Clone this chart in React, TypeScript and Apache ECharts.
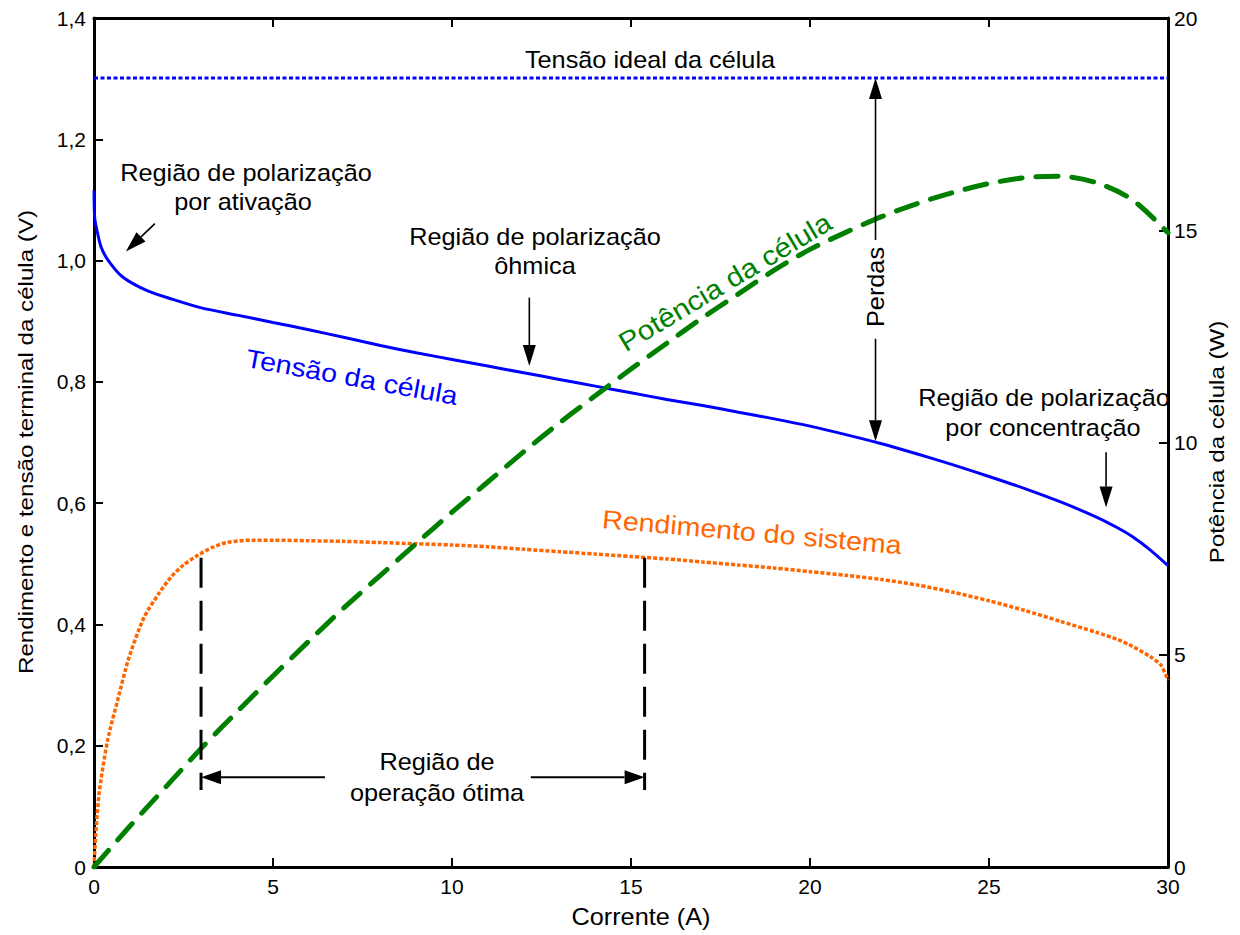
import React, { useEffect, useRef } from "react";
import * as echarts from "echarts";

const FONT = '"Liberation Sans", Arial, Helvetica, sans-serif';

// Corrente (A) / Tensão da célula (V)
const CURRENT_V = [0, 0.02, 0.1, 0.2, 0.4, 0.8, 1.5, 2.2, 3, 4, 5, 6, 7, 8, 9, 10, 11, 12, 13, 14, 15, 16, 17, 18, 19, 20, 21, 22, 23, 24, 25, 26, 27, 28, 28.6, 29, 29.5, 30];
const VOLTAGE = [1.115, 1.07, 1.045, 1.022, 1.0, 0.973, 0.95, 0.936, 0.922, 0.91, 0.898, 0.886, 0.873, 0.86, 0.848, 0.837, 0.826, 0.815, 0.804, 0.793, 0.782, 0.771, 0.761, 0.75, 0.739, 0.727, 0.713, 0.698, 0.681, 0.663, 0.644, 0.624, 0.602, 0.577, 0.559, 0.545, 0.523, 0.497];

// Rendimento do sistema
const CURRENT_E = [0, 0.05, 0.15, 0.38, 0.66, 0.98, 1.4, 1.8, 2.15, 2.5, 2.9, 3.3, 3.7, 4.4, 5, 6, 7, 8, 9, 10, 11, 12, 13, 14, 15, 16, 17, 18, 19, 20, 21, 22, 23, 24, 25, 26, 27, 28, 28.6, 29, 29.5, 29.8, 30];
const EFFICIENCY = [0, 0.055, 0.125, 0.209, 0.275, 0.346, 0.412, 0.45, 0.478, 0.498, 0.514, 0.527, 0.535, 0.539, 0.539, 0.538, 0.537, 0.535, 0.533, 0.531, 0.528, 0.524, 0.52, 0.516, 0.512, 0.508, 0.503, 0.498, 0.493, 0.487, 0.481, 0.474, 0.465, 0.453, 0.439, 0.423, 0.405, 0.387, 0.375, 0.364, 0.347, 0.333, 0.308];

// Potência da célula (W)
const CURRENT_P = [0, 1, 2, 3, 4, 5, 6, 7, 8, 9, 10, 11, 12, 13, 14, 15, 16, 17, 18, 19, 20, 21, 22, 23, 24, 25, 26, 27, 28, 29, 30];
const POWER = [0, 0.96, 1.88, 2.8, 3.66, 4.5, 5.32, 6.12, 6.87, 7.62, 8.36, 9.07, 9.78, 10.46, 11.1, 11.73, 12.34, 12.94, 13.5, 14.06, 14.55, 14.95, 15.32, 15.63, 15.89, 16.1, 16.24, 16.27, 16.12, 15.72, 14.94];

const IDEAL_CURRENT = [0, 30];
const IDEAL_VOLTAGE = [1.301, 1.301];

// Annotation arrows in data coordinates (x: A, y: V) [from, to]
const ARROWS: [number, number][][] = [
  [[1.7, 1.061], [0.89, 1.015]],
  [[12.16, 0.939], [12.16, 0.826]],
  [[21.83, 1.034], [21.83, 1.301]],
  [[21.83, 0.871], [21.83, 0.702]],
  [[28.27, 0.684], [28.27, 0.593]],
  [[6.45, 0.148], [2.99, 0.148]],
  [[12.2, 0.148], [15.38, 0.148]],
];
const OPTIMAL_BOUNDS = [2.99, 15.38];
const OPTIMAL_Y = [0.51, 0.127];

const zip = (xs: number[], ys: number[]) => xs.map((x, i) => [x, ys[i]]);

function txt(text: string, x: number, y: number, o: any = {}) {
  return {
    type: "text",
    x,
    y,
    rotation: o.rot || 0,
    scaleX: o.sx ?? 1.1,
    scaleY: 1,
    silent: true,
    z: 100,
    style: {
      text,
      fill: o.color || "#000",
      fontSize: o.size || 23,
      fontFamily: FONT,
      align: "center",
      verticalAlign: "middle",
    },
  };
}

export default function App() {
  const ref = useRef<HTMLDivElement>(null);
  useEffect(() => {
    const chart = echarts.init(ref.current as HTMLDivElement, null, { renderer: "svg" });
    const axisLine = { show: true, onZero: false, lineStyle: { color: "#000", width: 3 } };
    const axisTick = { show: true, inside: true, length: 9, lineStyle: { color: "#000", width: 2 } };
    const label = { color: "#000", fontSize: 21, fontFamily: FONT };
    chart.setOption({
      animation: false,
      backgroundColor: "#fff",
      grid: { left: 94, right: 72, top: 18, bottom: 68, containLabel: false },
      xAxis: [
        {
          type: "value", min: 0, max: 30, interval: 5, position: "bottom",
          axisLine, axisTick, splitLine: { show: false },
          axisLabel: { ...label, margin: 9 },
        },
        {
          type: "value", min: 0, max: 30, interval: 5, position: "top",
          axisLine, axisTick, splitLine: { show: false }, axisLabel: { show: false },
        },
      ],
      yAxis: [
        {
          type: "value", min: 0, max: 1.4, interval: 0.2, position: "left",
          axisLine, axisTick, splitLine: { show: false },
          axisLabel: {
            ...label, margin: 8,
            formatter: (v: number) => (v === 0 ? "0" : v.toFixed(1).replace(".", ",")),
          },
        },
        {
          type: "value", min: 0, max: 20, interval: 5, position: "right",
          axisLine, axisTick, splitLine: { show: false },
          axisLabel: { ...label, margin: 6 },
        },
      ],
      series: [
        {
          name: "Tensão ideal da célula", type: "line", symbol: "none", silent: true,
          data: zip(IDEAL_CURRENT, IDEAL_VOLTAGE),
          lineStyle: { color: "#0000FF", width: 3, type: [4, 2.5] },
        },
        {
          name: "Tensão da célula", type: "line", symbol: "none", silent: true,
          smooth: 0.25,
          data: zip(CURRENT_V, VOLTAGE),
          lineStyle: { color: "#0000FF", width: 3 },
        },
        {
          name: "Rendimento do sistema", type: "line", symbol: "none", silent: true,
          smooth: 0.25,
          data: zip(CURRENT_E, EFFICIENCY),
          lineStyle: { color: "#FF6600", width: 3.5, type: [4, 2] },
        },
        {
          name: "Potência da célula", type: "line", symbol: "none", silent: true,
          yAxisIndex: 1, smooth: 0.3,
          data: zip(CURRENT_P, POWER),
          lineStyle: { color: "#008000", width: 5, type: [22, 14], cap: "round" },
        },
      ],
    });

    const toPx = (p: number[]) => chart.convertToPixel({ seriesIndex: 1 }, p) as number[];
    const g: any[] = [];
    ARROWS.forEach(([a, b], i) => {
      const p0 = toPx(a);
      const p1 = toPx(b);
      const dx = p1[0] - p0[0];
      const dy = p1[1] - p0[1];
      const L = Math.hypot(dx, dy);
      const ux = dx / L, uy = dy / L;
      const big = i >= 5;
      const hl = big ? 20 : 21;
      const hw = big ? 14 : 13;
      const bx = p1[0] - ux * hl, by = p1[1] - uy * hl;
      g.push({
        type: "line", silent: true, z: 90,
        shape: { x1: p0[0], y1: p0[1], x2: bx, y2: by },
        style: { stroke: "#000", lineWidth: big ? 2 : 1.6 },
      });
      g.push({
        type: "polygon", silent: true, z: 90,
        shape: {
          points: [
            [p1[0], p1[1]],
            [bx - uy * hw / 2, by + ux * hw / 2],
            [bx + uy * hw / 2, by - ux * hw / 2],
          ],
        },
        style: { fill: "#000" },
      });
    });
    OPTIMAL_BOUNDS.forEach((x) => {
      const t = toPx([x, OPTIMAL_Y[0]]);
      const b = toPx([x, OPTIMAL_Y[1]]);
      g.push({
        type: "line", silent: true, z: 90,
        shape: { x1: t[0], y1: t[1], x2: b[0], y2: b[1] },
        style: { stroke: "#000", lineWidth: 3, lineDash: [30, 13] },
      });
    });

    g.push(txt("Tensão ideal da célula", 650, 60));
    g.push(txt("Região de polarização", 246, 173));
    g.push(txt("por ativação", 243, 202));
    g.push(txt("Região de polarização", 535, 237));
    g.push(txt("ôhmica", 535, 266));
    g.push(txt("Perdas", 876, 287, { rot: Math.PI / 2 }));
    g.push(txt("Região de polarização", 1044, 398));
    g.push(txt("por concentração", 1043, 428));
    g.push(txt("Região de", 437, 762));
    g.push(txt("operação ótima", 437, 793));
    g.push(txt("Tensão da célula", 352, 377, { color: "#0000FF", size: 26, rot: -0.18 }));
    g.push(txt("Potência da célula", 725, 282, { color: "#008000", size: 27, rot: 0.54 }));
    g.push(txt("Rendimento do sistema", 752, 532, { color: "#FF6600", size: 26, rot: -0.087 }));
    g.push(txt("Corrente (A)", 641, 917));
    g.push(txt("Rendimento e tensão terminal da célula (V)", 26, 442, { size: 21, sx: 1.15, rot: Math.PI / 2 }));
    g.push(txt("Potência da célula (W)", 1217, 442, { size: 21, sx: 1.15, rot: Math.PI / 2 }));

    chart.setOption({ graphic: g });
    return () => chart.dispose();
  }, []);
  return (
    <div
      ref={ref}
      style={{ position: "absolute", left: 0, top: 0, width: 1240, height: 935, background: "#fff" }}
    />
  );
}
